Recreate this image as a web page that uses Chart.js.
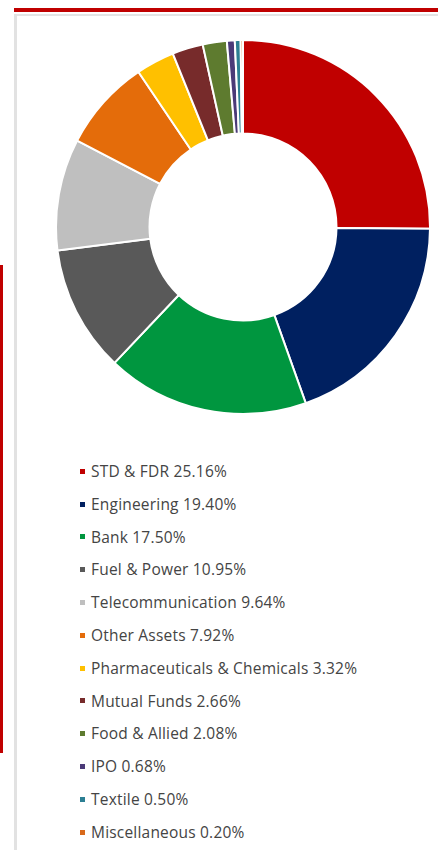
<!DOCTYPE html>
<html>
<head>
<meta charset="utf-8">
<script src="https://cdn.jsdelivr.net/npm/chart.js@4/dist/chart.umd.min.js"></script>
<style>
  html, body { margin: 0; padding: 0; background: #fff; }
  body { width: 438px; height: 850px; position: relative; overflow: hidden; font-family: "Open Sans", "DejaVu Sans", sans-serif; }
  #topRed { position: absolute; left: 14px; top: 8px; width: 424px; height: 4px; background: #c00000; }
  #topGray { position: absolute; left: 14px; top: 14px; width: 424px; height: 2px; background: #e4e4e4; }
  #leftGray { position: absolute; left: 14px; top: 14px; width: 3px; height: 836px; background: #e2e2e2; }
  #leftRed { position: absolute; left: 0px; top: 265px; width: 3px; height: 488px; background: #c00000; }
  #chartBox { position: absolute; left: 55px; top: 39px; width: 376px; height: 376px; }
  #legend { position: absolute; left: 80px; top: 455px; margin: 0; padding: 0; list-style: none; }
  #legend li { height: 32.8px; line-height: 32.8px; font-size: 15.5px; letter-spacing: 0.2px; color: #444444; white-space: nowrap; display: flex; align-items: center; }
  #legend li span.box { display: inline-block; width: 5px; height: 5px; margin-right: 6px; }
</style>
</head>
<body>
<div id="topRed"></div>
<div id="topGray"></div>
<div id="leftGray"></div>
<div id="leftRed"></div>
<div id="chartBox"><canvas id="c"></canvas></div>
<ul id="legend"></ul>
<script>
const categories = ["STD & FDR", "Engineering", "Bank", "Fuel & Power", "Telecommunication", "Other Assets", "Pharmaceuticals & Chemicals", "Mutual Funds", "Food & Allied", "IPO", "Textile", "Miscellaneous"];
const values = [25.16, 19.40, 17.50, 10.95, 9.64, 7.92, 3.32, 2.66, 2.08, 0.68, 0.50, 0.20];
const valueLabels = ["25.16%", "19.40%", "17.50%", "10.95%", "9.64%", "7.92%", "3.32%", "2.66%", "2.08%", "0.68%", "0.50%", "0.20%"];
const colors = ["#c00000", "#002060", "#00963f", "#595959", "#bfbfbf", "#e46c0a", "#ffc000", "#772b2b", "#5e7b2f", "#4b3a78", "#2c7f93", "#d8691b"];

const chart = new Chart(document.getElementById('c'), {
  type: 'doughnut',
  data: {
    labels: categories,
    datasets: [{ data: values, backgroundColor: colors, borderColor: '#ffffff', borderWidth: 2 }]
  },
  options: {
    responsive: true,
    maintainAspectRatio: false,
    animation: false,
    events: [],
    cutout: '50%',
    layout: { padding: 0 },
    plugins: { legend: { display: false }, tooltip: { enabled: false } }
  }
});

const ul = document.getElementById('legend');
categories.forEach((name, i) => {
  const li = document.createElement('li');
  const box = document.createElement('span');
  box.className = 'box';
  box.style.background = colors[i];
  li.appendChild(box);
  li.appendChild(document.createTextNode(name + ' ' + valueLabels[i]));
  ul.appendChild(li);
});
</script>
</body>
</html>
